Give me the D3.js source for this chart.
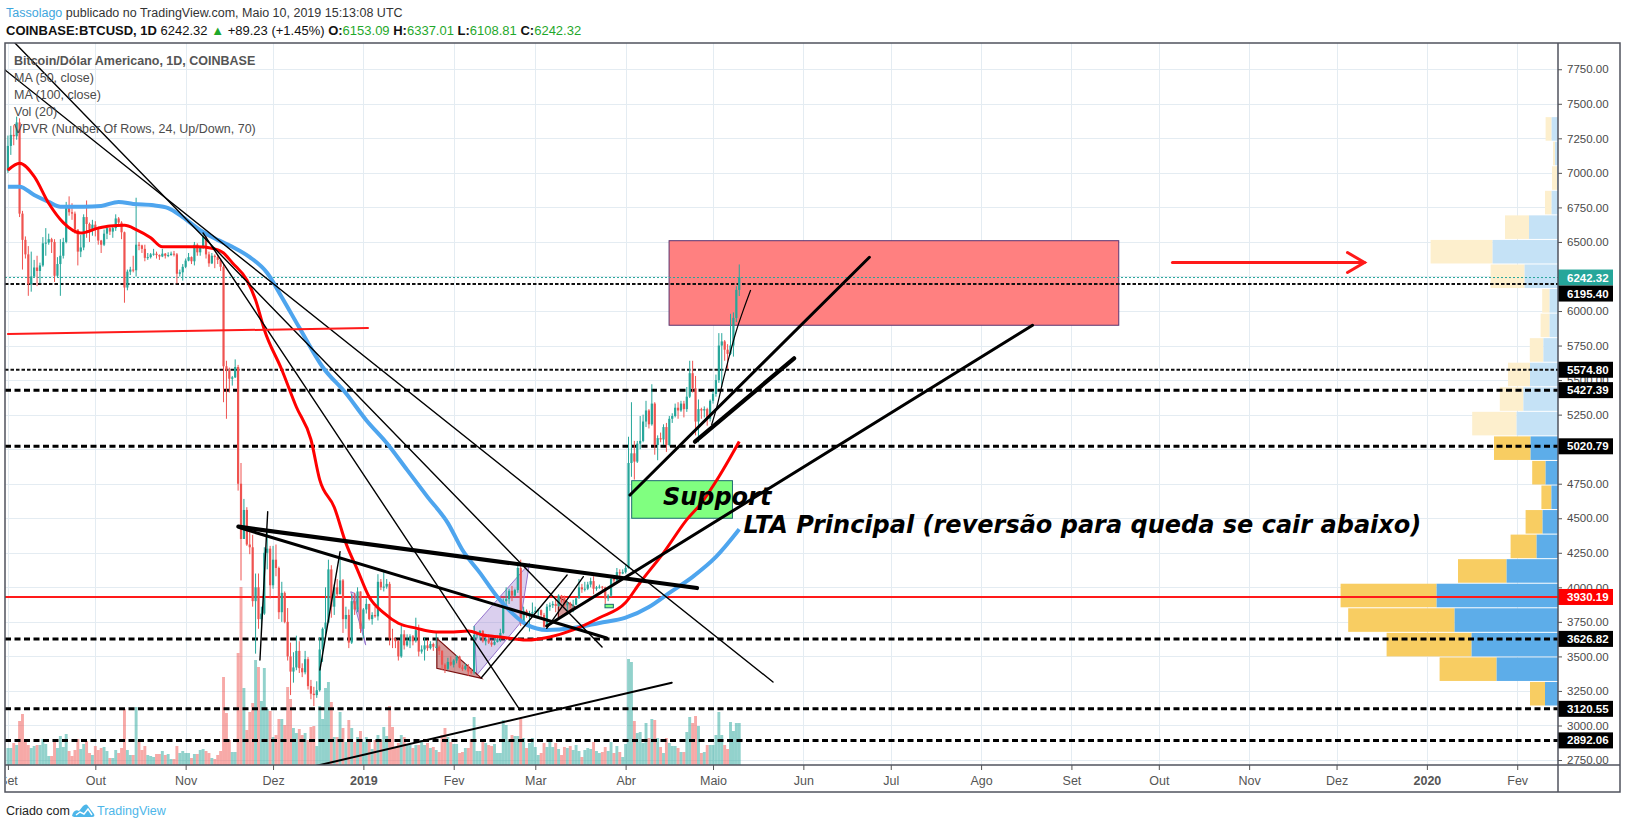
<!DOCTYPE html>
<html>
<head>
<meta charset="utf-8">
<script src="https://cdn.jsdelivr.net/npm/d3@7"></script>
<style>
  body { margin: 0; background: #fff; }
  svg { display: block; font-family: "Liberation Sans", Arial, sans-serif; }
</style>
</head>
<body>
<svg id="chart" width="1627" height="829"></svg>
<script>
// ---------- data (BTCUSD daily, 1 Sep 2018 .. 10 May 2019) ----------
const opens = [
  // Sep
  7015,7195,7275,7265,7365,6705,6515,6410,6195,6250,6315,6290,6330,6490,6495,6520,6500,6255,6340,6400,6500,6760,6715,6705,6590,6430,6460,6680,6630,6590,
  // Oct
  6625,6590,6510,6480,6560,6600,6575,6600,6670,6640,6570,6170,6285,6300,6295,6480,6475,6450,6385,6390,6410,6415,6405,6395,6415,6400,6405,6415,6410,6270,6280,
  // Nov
  6320,6365,6390,6360,6480,6425,6460,6540,6410,6345,6400,6390,6370,6320,5600,5570,5510,5520,5595,4750,4350,4560,4310,4290,3900,4000,3770,3810,4250,4280,
  // Dec
  4015,4200,4140,3820,3960,3750,3500,3390,3420,3540,3415,3385,3480,3285,3230,3220,3255,3550,3700,3745,4130,3860,4000,3950,4050,3770,3800,3600,3900,3840,3970,
  // Jan
  3700,3840,3880,3770,3800,3790,4040,4000,4005,4025,3630,3625,3610,3500,3660,3580,3610,3645,3610,3690,3535,3550,3580,3560,3590,3570,3570,3540,3440,3410,3460,
  // Feb
  3440,3470,3500,3420,3410,3430,3390,3385,3655,3660,3685,3610,3625,3600,3585,3605,3625,3670,3900,3915,3975,3940,3980,4140,3740,3830,3805,3810,
  // Mar
  3820,3830,3835,3800,3715,3860,3870,3880,3865,3940,3930,3870,3885,3870,3875,3920,4000,3985,3990,4020,4045,3990,4000,4005,4000,3920,3940,4060,4050,4110,4100,
  // Apr
  4110,4140,4900,4970,4910,5040,5060,5200,5280,5180,5330,5030,5080,5070,5160,5030,5220,5240,5300,5280,5330,5290,5380,5550,5440,5200,5290,5280,5290,5220,
  // May
  5350,5400,5500,5750,5780,5720,5690,5750,5950,6153.09
];
const highs = [
  7270,7340,7345,7407,7395,6725,6540,6470,6430,6370,6400,6350,6535,6600,6560,6530,6520,6390,6520,6530,6790,6830,6780,6720,6590,6550,6700,6800,6640,6660,
  6650,6610,6515,6590,6620,6605,6610,6700,6680,6650,6575,6300,6320,6400,6820,6500,6480,6480,6420,6420,6450,6430,6410,6450,6420,6425,6430,6435,6420,6300,6340,
  6380,6420,6395,6500,6490,6470,6560,6545,6430,6420,6410,6410,6380,6340,5640,5590,5530,5650,5610,4900,4640,4580,4400,4380,4100,4100,3860,4290,4420,4300,
  4300,4310,4150,4040,3970,3850,3600,3530,3650,3610,3450,3540,3495,3330,3280,3320,3640,3710,4000,4200,4160,4020,4060,4240,4060,3860,3840,3950,3960,4000,3970,
  3850,3920,3880,3820,3860,4095,4060,4110,4060,4040,3700,3640,3620,3720,3690,3660,3660,3655,3780,3730,3580,3640,3620,3610,3600,3670,3580,3545,3450,3490,3500,
  3480,3510,3505,3440,3450,3445,3410,3720,3670,3690,3690,3650,3660,3620,3640,3650,3700,3920,4000,3990,4010,3990,4180,4200,3860,3840,3830,3890,
  3860,3845,3840,3815,3880,3890,3900,3930,3950,3945,3940,3900,3895,3910,3930,4060,4025,4040,4040,4070,4080,4010,4020,4010,4005,3950,4080,4075,4140,4130,4130,
  4160,5090,5340,5060,5060,5240,5250,5350,5290,5470,5340,5100,5120,5180,5190,5240,5260,5330,5340,5350,5350,5450,5640,5640,5530,5360,5300,5310,5300,5360,
  5420,5540,5840,5840,5790,5760,5980,5990,6180,6337.01
];
const lows = [
  7000,7130,7200,7240,6680,6300,6380,6110,6140,6245,6180,6200,6320,6400,6480,6420,6210,6240,6110,6380,6490,6690,6660,6560,6330,6390,6440,6530,6500,6545,
  6540,6480,6420,6470,6520,6550,6530,6580,6610,6520,6060,6150,6260,6280,6250,6440,6420,6360,6370,6380,6400,6380,6370,6390,6380,6390,6400,6395,6200,6250,6220,
  6310,6360,6340,6330,6400,6400,6450,6380,6320,6340,6310,6340,6290,5340,5220,5410,5460,5515,4700,4050,4350,4300,4240,3860,3520,3700,3660,3800,4130,3920,
  3990,4080,3770,3750,3740,3470,3220,3310,3400,3380,3350,3370,3260,3190,3141,3200,3245,3460,3650,3740,3780,3800,3930,3950,3670,3700,3560,3590,3800,3820,3670,
  3630,3810,3760,3730,3780,3760,3980,3970,3990,3580,3560,3560,3470,3490,3550,3570,3560,3580,3600,3500,3520,3470,3540,3550,3540,3560,3510,3400,3380,3400,3430,
  3420,3450,3415,3395,3400,3360,3370,3370,3630,3620,3600,3580,3590,3570,3580,3600,3605,3660,3870,3880,3900,3930,3960,3720,3730,3780,3680,3790,
  3815,3790,3780,3700,3710,3830,3850,3820,3860,3890,3860,3830,3850,3820,3870,3920,3960,3970,3980,4000,3950,3975,3990,3975,3880,3900,3930,4030,4040,4080,4095,
  4100,4135,4800,4780,4900,5000,5050,5160,5150,5170,4960,4920,5050,5030,4980,5020,5190,5230,5220,5270,5230,5270,5370,5410,5100,5050,5220,5230,5170,5200,
  5330,5380,5480,5450,5640,5580,5680,5670,5920,6108.81
];
const closes = [
  7195,7275,7265,7365,6705,6515,6410,6195,6250,6315,6290,6330,6490,6495,6520,6500,6255,6340,6400,6500,6760,6715,6705,6590,6430,6460,6680,6630,6590,6625,
  6590,6510,6480,6560,6600,6575,6600,6670,6640,6570,6170,6285,6300,6295,6480,6475,6450,6385,6390,6410,6415,6405,6395,6415,6400,6405,6415,6410,6270,6280,6320,
  6365,6390,6360,6480,6425,6460,6540,6410,6345,6400,6390,6370,6320,5600,5570,5510,5520,5595,4750,4350,4560,4310,4290,3900,4000,3770,3810,4250,4280,4015,
  4200,4140,3820,3960,3750,3500,3390,3420,3540,3415,3385,3480,3285,3230,3220,3255,3550,3700,3745,4130,3860,4000,3950,4050,3770,3800,3600,3900,3840,3970,3700,
  3840,3880,3770,3800,3790,4040,4000,4005,4025,3630,3625,3610,3500,3660,3580,3610,3645,3610,3690,3535,3550,3580,3560,3590,3570,3570,3540,3440,3410,3460,3440,
  3470,3500,3420,3410,3430,3390,3385,3655,3660,3685,3610,3625,3600,3585,3605,3625,3670,3900,3915,3975,3940,3980,4140,3740,3830,3805,3810,3820,
  3830,3835,3800,3715,3860,3870,3880,3865,3940,3930,3870,3885,3870,3875,3920,4000,3985,3990,4020,4045,3990,4000,4005,4000,3920,3940,4060,4050,4110,4100,4110,
  4140,4900,4970,4910,5040,5060,5200,5280,5180,5330,5030,5080,5070,5160,5030,5220,5240,5300,5280,5330,5290,5380,5550,5440,5200,5290,5280,5290,5220,5350,
  5400,5500,5750,5780,5720,5690,5750,5950,6153.09,6242.32
];
const volumes = [
  8.5,8.5,11,10,22,25.5,11.5,10,8.5,9.5,10,10,13,10.5,4.5,4.5,13,8.5,14.5,9,15.5,7,4.5,7.5,13,8,10.5,12,6,5,
  9.5,7.5,8.5,9,7,3.5,3.5,7.5,6,8.5,28,7.5,5,5,29,12.5,7.5,9.5,5,4.5,4,5.5,5.5,7,5,5.5,3,3,9.5,6,7,
  6,6,3.5,5.5,5.5,7.5,8,7,6,3.5,3,5,7,44,26,12.5,6.5,6.5,56,89,38.5,17.5,26.5,31,52.5,49,32,48.5,28,27,
  14,15,23,23,20,39,33,18.5,16,18,15,16,12.5,19,19.5,9.5,29.5,23,38.5,41.5,31.5,14,14,26.5,18.5,11.5,22.5,18.5,11.5,14,17,
  11.5,14,11.5,8,12.5,15,12.5,19,14.5,29.5,19,8.5,11,15,14,10,10,8.5,10,10,12.5,10,11,8.5,9,7.5,6.5,15,18.5,14,11.5,
  10.5,10.5,6,6.5,8.5,8.5,13,24,7,7,11.5,11,10,9.5,10.5,6,6,22.5,20,12,15,14.5,14.5,23,13.5,8.5,11,13.5,
  9,5,6,11,9,13,9,11,8,5,9,8.5,9.5,7.5,10,7,4,7.5,8.5,8,11.5,7,6,6.5,9,7,11.5,6,9.5,6.5,4,
  10.5,53,51.5,22,16,16.5,11,21,13.5,23,22.5,13.5,9,6,13.5,11,9.5,9.5,8.5,6.5,6.5,16.5,24,21,24.5,19.5,6,6.5,10,10,
  10,15,26.5,15,10,8,21.5,17,21,21
];

// moving averages as drawn: [candle index, value]
const ma50 = [[0,7020],[4,7070],[9,6975],[14,6780],[19,6640],[25,6565],[31,6600],[35,6615],[40,6620],[44,6590],
  [49,6530],[53,6465],[59,6465],[65,6465],[70,6455],[74,6420],[77,6350],[82,6225],[85,6080],[88,5865],[94,5575],
  [99,5305],[104,5070],[107,4780],[112,4580],[116,4320],[120,4125],[124,3930],[129,3815],[134,3740],[140,3705],
  [147,3677],[153,3677],[158,3684],[163,3655],[169,3641],[178,3619],[186,3641],[194,3692],[203,3780],[212,3890],
  [217,4035],[225,4250],[233,4490],[238,4610],[244,4800],[251,5055]];
const ma100 = [[0,6900],[4,6900],[9,6840],[14,6790],[18,6755],[26,6755],[32,6760],[38,6790],[43,6775],[50,6765],
  [55,6745],[60,6680],[66,6585],[72,6515],[77,6465],[83,6390],[89,6275],[94,6100],[100,5880],[108,5595],[116,5405],
  [123,5210],[130,5045],[137,4850],[144,4655],[151,4465],[156,4270],[162,4105],[168,3930],[173,3815],[178,3730],
  [185,3692],[194,3706],[203,3742],[212,3780],[220,3858],[227,3960],[235,4076],[243,4220],[251,4420]];

// visible-range volume profile, 24 rows from the bottom row upward
const vpLow = 3141, vpHigh = 7407;
const vpUp   = [6.5,30.7,43.2,51.7,60.7,25.7,10.7,7.7,3.3,6.2,13.7,20.7,17.3,14,7.3,4.2,4.2,16.7,32.7,14.5,3.2,0.5,1.5,3.2];
const vpDown = [7.5,28.5,42.5,53.2,48,24.3,13,8.5,5,6.7,18.3,22.2,11.8,11,6.8,4.5,3.7,17,31,12,3.3,2.5,1,3];
const vpValueAreaRows = 11;

// axis ticks
const priceTicks = d3.range(2750, 7751, 250);
const monthLabels = ["Set","Out","Nov","Dez","2019","Fev","Mar","Abr","Maio","Jun","Jul","Ago","Set","Out","Nov","Dez","2020","Fev"];

// horizontal levels
const lastPrice = 6242.32;
const redLevel = 3930.19;
const dottedLevels = [6195.40, 5574.80];
const dashedLevels = [5427.39, 5020.79, 3626.82, 3120.55, 2892.06];

// drawings, anchored in [time, price]
const thinLines = [
  [["2018-09-03T10:00",7940],["2019-03-23T22:00",3568]],
  [["2018-08-31T00:00",7745],["2019-05-21T14:00",3315]],
  [["2018-11-06T23:00",6565],["2019-02-23T18:00",3112]],
  [["2019-02-10T10:00",3344],["2019-03-11T22:00",4089]],
  [["2019-03-04T22:00",3703],["2019-03-17T12:00",4077]],
  [["2018-11-29T04:00",4548],["2018-11-26T12:00",3474]],
  [["2018-12-17T02:00",3402],["2018-12-24T00:00",4258]]
];
const slimLines = [
  [["2018-12-10T00:00",2679],["2019-04-16T20:00",3310]]
];
const mediumLines = [
  [["2018-11-19T16:00",4430],["2019-03-25T12:00",3633]],
  [["2019-03-04T22:00",3720],["2019-08-18T16:00",5897]],
  [["2019-04-02T12:00",4668],["2019-06-23T16:00",6389]]
];
const thickLines = [
  [["2018-11-19T02:00",4439],["2019-04-25T12:00",3995]],
  [["2019-04-24T20:00",5054],["2019-05-28T20:00",5658]]
];
const redLine = [["2018-09-01T00:00",5834],["2019-01-02T14:00",5877]];
const curvePoints = [["2019-04-30T12:00",5175],["2019-05-02T08:00",5308],["2019-05-04T12:00",5501],
  ["2019-05-06T20:00",5694],["2019-05-09T02:00",5863],["2019-05-11T10:00",6008],["2019-05-13T22:00",6152]];
const arrow = [["2019-10-05T16:00",6351],["2019-12-10T14:00",6351]];
const resistanceBox = [["2019-04-15T22:00",6509],["2019-09-17T06:00",5897]];
const supportBox = [["2019-04-03T02:00",4772],["2019-05-07T16:00",4500]];
const miniBox = [["2019-03-24T22:00",3877],["2019-03-27T19:00",3852]];
const channel = [["2019-02-08T00:00",3720],["2019-02-27T00:00",4174],["2019-02-23T18:00",3740],["2019-02-08T22:00",3365]];
const purpleWedge = [["2018-12-27T16:00",3968],["2018-12-29T02:00",3956],["2019-01-01T19:00",3582]];
const redTriangles = [
  [["2019-01-26T05:00",3631],["2019-01-26T05:00",3414],["2019-02-10T14:00",3341]],
  [["2019-03-08T22:00",3932],["2019-03-08T22:00",3776],["2019-03-14T14:00",3860]]
];
const notes = [
  {text: "Support", at: ["2019-04-13T19:00",4596]},
  {text: "LTA Principal (reversão para queda se cair abaixo)", at: ["2019-05-11T10:00",4391]}
];

// ---------- layout ----------
const svg = d3.select("#chart");
const plot = {left: 5, right: 1558, top: 43, bottom: 765};
const frameRight = 1620, frameBottom = 792;
const up = "#26a69a", down = "#ef5350";

const dates = d3.timeDay.range(new Date(2018, 8, 1), new Date(2019, 4, 11));
const n = Math.min(dates.length, opens.length, highs.length, lows.length, closes.length);

const x = d3.scaleTime()
  .domain([new Date(2018, 7, 31), new Date(2020, 1, 15)])
  .range([plot.left, plot.right]);
const y = d3.scaleLinear().domain([2714, 7940]).range([plot.bottom, plot.top]);
const yVol = d3.scaleLinear().domain([0, 100]).range([plot.bottom, plot.bottom - 200]);
const vpWidth = d3.scaleLinear().domain([0, 100]).range([0, 200]);

const pt = d => [x(new Date(d[0])), y(d[1])];

const defs = svg.append("defs");
defs.append("clipPath").attr("id", "plotClip")
  .append("rect").attr("x", plot.left).attr("y", plot.top)
  .attr("width", plot.right - plot.left).attr("height", plot.bottom - plot.top);

// header
const head = svg.append("g");
head.append("text").attr("x", 6).attr("y", 17).attr("font-size", 12.5)
  .call(t => {
    t.append("tspan").attr("fill", "#3ea6dd").text("Tassolago");
    t.append("tspan").attr("fill", "#333").text(" publicado no TradingView.com, Maio 10, 2019 15:13:08 UTC");
  });
const green = "#1fa82b";
head.append("text").attr("x", 6).attr("y", 35).attr("font-size", 13).attr("fill", "#111")
  .call(t => {
    t.append("tspan").attr("font-weight", "bold").text("COINBASE:BTCUSD, 1D");
    t.append("tspan").text("  6242.32 ");
    t.append("tspan").attr("fill", green).text("▲");
    t.append("tspan").text(" +89.23 (+1.45%) ");
    [["O:", "6153.09"], ["H:", "6337.01"], ["L:", "6108.81"], ["C:", "6242.32"]].forEach((p, i) => {
      t.append("tspan").attr("font-weight", "bold").text((i ? " " : "") + p[0]);
      t.append("tspan").attr("fill", green).text(p[1]);
    });
  });

// grid
const monthTicks = d3.timeMonth.range(new Date(2018, 8, 1), new Date(2020, 1, 2));
const grid = svg.append("g").attr("stroke", "#e4ecf2").attr("stroke-width", 1);
grid.selectAll(".v").data(monthTicks).join("line")
  .attr("x1", d => Math.round(x(d)) + 0.5).attr("x2", d => Math.round(x(d)) + 0.5)
  .attr("y1", plot.top).attr("y2", plot.bottom)
  .attr("visibility", d => x(d) > plot.left + 2 ? "visible" : "hidden");
grid.selectAll(".h").data(priceTicks).join("line")
  .attr("x1", plot.left).attr("x2", plot.right)
  .attr("y1", d => Math.round(y(d)) + 0.5).attr("y2", d => Math.round(y(d)) + 0.5);

const chart = svg.append("g").attr("clip-path", "url(#plotClip)");

// boxes under the series
const box = (data, fill, stroke) => {
  const b = data.map(pt);
  chart.append("rect").attr("x", b[0][0]).attr("y", b[0][1])
    .attr("width", b[1][0] - b[0][0]).attr("height", b[1][1] - b[0][1])
    .attr("fill", fill).attr("stroke", stroke).attr("stroke-width", 1);
};
box(resistanceBox, "#ff8080", "#5a3470");
box(supportBox, "#80ff80", "#1d6b70");
box(miniBox, "#80ff80", "#1d6b70");

// volume
const idx = d3.range(n);
chart.append("g").selectAll("rect").data(idx).join("rect")
  .attr("x", i => x(dates[i]) - 1.45).attr("width", 2.9)
  .attr("y", i => yVol(volumes[i])).attr("height", i => plot.bottom - yVol(volumes[i]))
  .attr("fill", i => closes[i] >= opens[i] ? "rgba(38,166,154,0.5)" : "rgba(239,83,80,0.5)");

// volume profile
const vpStep = (vpHigh - vpLow) / vpUp.length;
const vp = chart.append("g");
vpUp.forEach((u, r) => {
  const y0 = y(vpLow + (r + 1) * vpStep) + 0.5, y1 = y(vpLow + r * vpStep) - 0.5;
  const inVA = r < vpValueAreaRows;
  const wu = vpWidth(u), wd = vpWidth(vpDown[r]);
  vp.append("rect").attr("x", plot.right - wu - wd).attr("y", y0).attr("width", wd).attr("height", y1 - y0)
    .attr("fill", inVA ? "#f8cd62" : "#fdefcd");
  vp.append("rect").attr("x", plot.right - wu).attr("y", y0).attr("width", wu).attr("height", y1 - y0)
    .attr("fill", inVA ? "#5dade9" : "#c5e2f6");
});

// horizontal levels
chart.append("line").attr("x1", plot.left).attr("x2", plot.right)
  .attr("y1", y(lastPrice)).attr("y2", y(lastPrice))
  .attr("stroke", up).attr("stroke-width", 1).attr("stroke-dasharray", "2,2");
chart.selectAll(".dl").data(dottedLevels).join("line")
  .attr("x1", plot.left).attr("x2", plot.right)
  .attr("y1", d => y(d)).attr("y2", d => y(d))
  .attr("stroke", "#111").attr("stroke-width", 2).attr("stroke-dasharray", "3.5,2");
chart.selectAll(".dd").data(dashedLevels).join("line")
  .attr("x1", plot.left).attr("x2", plot.right)
  .attr("y1", d => y(d)).attr("y2", d => y(d))
  .attr("stroke", "#000").attr("stroke-width", 3).attr("stroke-dasharray", "6,3.5");
chart.append("line").attr("x1", plot.left).attr("x2", plot.right)
  .attr("y1", y(redLevel)).attr("y2", y(redLevel))
  .attr("stroke", "#ff1a1a").attr("stroke-width", 2);

// shapes drawn on the chart
chart.append("polygon").attr("points", channel.map(pt).join(" "))
  .attr("fill", "rgba(149,117,205,0.35)").attr("stroke", "#9575cd").attr("stroke-width", 1);
chart.append("polygon").attr("points", purpleWedge.map(pt).join(" "))
  .attr("fill", "rgba(149,117,205,0.35)").attr("stroke", "#9575cd").attr("stroke-width", 1);
chart.selectAll(".tri").data(redTriangles).join("polygon")
  .attr("points", d => d.map(pt).join(" "))
  .attr("fill", "rgba(160,30,30,0.45)").attr("stroke", "#7a1010").attr("stroke-width", 1.2);

// candles
const candles = chart.append("g");
candles.selectAll("line").data(idx).join("line")
  .attr("x1", i => x(dates[i])).attr("x2", i => x(dates[i]))
  .attr("y1", i => y(highs[i])).attr("y2", i => y(lows[i]))
  .attr("stroke", i => closes[i] >= opens[i] ? up : down).attr("stroke-width", 1);
candles.selectAll("rect").data(idx).join("rect")
  .attr("x", i => x(dates[i]) - 1.1).attr("width", 2.2)
  .attr("y", i => y(Math.max(opens[i], closes[i])))
  .attr("height", i => Math.max(1, Math.abs(y(opens[i]) - y(closes[i]))))
  .attr("fill", i => closes[i] >= opens[i] ? up : down);

// moving averages
const maLine = d3.line().x(d => x(dates[d[0]])).y(d => y(d[1])).curve(d3.curveMonotoneX);
chart.append("path").attr("d", maLine(ma100)).attr("fill", "none")
  .attr("stroke", "#4ea5ee").attr("stroke-width", 4).attr("stroke-linejoin", "round");
chart.append("path").attr("d", maLine(ma50)).attr("fill", "none")
  .attr("stroke", "#ff0000").attr("stroke-width", 3).attr("stroke-linejoin", "round");

// trend lines
const seg = (data, w, color) => chart.append("g").selectAll("line").data(data).join("line")
  .attr("x1", d => pt(d[0])[0]).attr("y1", d => pt(d[0])[1])
  .attr("x2", d => pt(d[1])[0]).attr("y2", d => pt(d[1])[1])
  .attr("stroke", color).attr("stroke-width", w).attr("stroke-linecap", "round");
seg(thinLines, 1.4, "#000");
seg(slimLines, 2, "#000");
seg(mediumLines, 3, "#000");
seg(thickLines, 4.2, "#000");
seg([redLine], 2, "#ff1a1a");
chart.append("path").attr("d", d3.line().curve(d3.curveCatmullRom)(curvePoints.map(pt)))
  .attr("fill", "none").attr("stroke", "#000").attr("stroke-width", 1.2);

// arrow
const a0 = pt(arrow[0]), a1 = pt(arrow[1]);
const arrowG = chart.append("g").attr("stroke", "#ff1a1a").attr("stroke-width", 3)
  .attr("fill", "none").attr("stroke-linecap", "round");
arrowG.append("line").attr("x1", a0[0]).attr("y1", a0[1]).attr("x2", a1[0]).attr("y2", a1[1]);
arrowG.append("polyline").attr("points", [[a1[0] - 17, a1[1] - 10], a1, [a1[0] - 17, a1[1] + 10]].join(" "));

// notes
svg.append("g").selectAll("text").data(notes).join("text")
  .attr("x", d => pt(d.at)[0]).attr("y", d => pt(d.at)[1])
  .style("font-family", "'DejaVu Sans', Verdana, sans-serif")
  .style("font-size", "24px").style("font-weight", "bold").style("font-style", "oblique")
  .attr("fill", "#000").text(d => d.text);

// legend
const legend = svg.append("g").attr("fill", "#4c4c4c").attr("font-size", 12.5);
legend.append("text").attr("x", 14).attr("y", 65).attr("font-weight", "bold").attr("fill", "#555")
  .text("Bitcoin/Dólar Americano, 1D, COINBASE");
["MA (50, close)", "MA (100, close)", "Vol (20)", "VPVR (Number Of Rows, 24, Up/Down, 70)"].forEach((s, i) => {
  legend.append("text").attr("x", 14).attr("y", 82 + i * 17).text(s);
});

// axes
const yAxis = svg.append("g").attr("transform", `translate(${plot.right},0)`)
  .call(d3.axisRight(y).tickValues(priceTicks).tickFormat(d3.format(".2f")).tickSize(4).tickPadding(5));
yAxis.select(".domain").remove();
yAxis.selectAll("line").attr("stroke", "#555");
yAxis.selectAll("text").attr("font-size", 11.5).attr("fill", "#4a4a4a")
  .attr("font-family", "'Liberation Sans', Arial, sans-serif");

defs.append("clipPath").attr("id", "xClip")
  .append("rect").attr("x", plot.left + 1).attr("y", 0).attr("width", plot.right - plot.left).attr("height", 26);
const xAxis = svg.append("g").attr("transform", `translate(0,${plot.bottom})`)
  .attr("clip-path", "url(#xClip)")
  .call(d3.axisBottom(x).tickValues(monthTicks).tickFormat((d, i) => monthLabels[i]).tickSize(5).tickPadding(6));
xAxis.select(".domain").remove();
xAxis.selectAll("line").attr("stroke", "#555");
xAxis.selectAll("text").attr("font-size", 12.5).attr("fill", "#555")
  .attr("font-family", "'Liberation Sans', Arial, sans-serif")
  .attr("font-weight", (d, i) => /^\d{4}$/.test(monthLabels[i]) ? "bold" : null);

// price labels on the axis
const labels = [
  {v: lastPrice, fill: up},
  {v: dottedLevels[0], fill: "#000"},
  {v: dottedLevels[1], fill: "#000"},
  {v: dashedLevels[0], fill: "#000"},
  {v: dashedLevels[1], fill: "#000"},
  {v: redLevel, fill: "#ff0000"},
  {v: dashedLevels[2], fill: "#000"},
  {v: dashedLevels[3], fill: "#000"},
  {v: dashedLevels[4], fill: "#000"}
];
let prev = -Infinity;
labels.forEach(l => { l.yy = Math.max(y(l.v), prev + 16); prev = l.yy; });
const lab = svg.append("g").selectAll("g").data(labels).join("g")
  .attr("transform", d => `translate(${plot.right},${d.yy})`);
lab.append("rect").attr("x", 0).attr("y", -8).attr("width", 55).attr("height", 16).attr("fill", d => d.fill);
lab.append("text").attr("x", 9).attr("dy", "0.35em").attr("fill", "#fff").attr("font-size", 11.5)
  .attr("font-weight", "bold").text(d => d.v.toFixed(2));

// frame
const frame = svg.append("g").attr("stroke", "#50535e").attr("fill", "none");
frame.append("rect").attr("x", plot.left).attr("y", plot.top)
  .attr("width", frameRight - plot.left).attr("height", frameBottom - plot.top).attr("stroke-width", 1.5);
frame.append("line").attr("x1", plot.right).attr("x2", plot.right).attr("y1", plot.top).attr("y2", frameBottom).attr("stroke-width", 1.5);
frame.append("line").attr("x1", plot.left).attr("x2", frameRight).attr("y1", plot.bottom).attr("y2", plot.bottom).attr("stroke-width", 1.5);

// footer
const foot = svg.append("g");
foot.append("text").attr("x", 6).attr("y", 815).attr("font-size", 12.5).attr("fill", "#222").text("Criado com");
foot.append("path").attr("transform", "translate(72,803)")
  .attr("d", "M0,13 C1,8 4,6 7,8 L11,3 C13,1 15,1 16,3 L22,11 C23,13 22,14 20,14 L2,14 Z")
  .attr("fill", "#4db6e9");
foot.append("path").attr("transform", "translate(72,803)")
  .attr("d", "M4,12 L8,9 L12,11 L16,6 L20,12")
  .attr("fill", "none").attr("stroke", "#fff").attr("stroke-width", 1.4);
foot.append("text").attr("x", 97).attr("y", 815).attr("font-size", 12.5).attr("fill", "#4db6e9").text("TradingView");
</script>
</body>
</html>
